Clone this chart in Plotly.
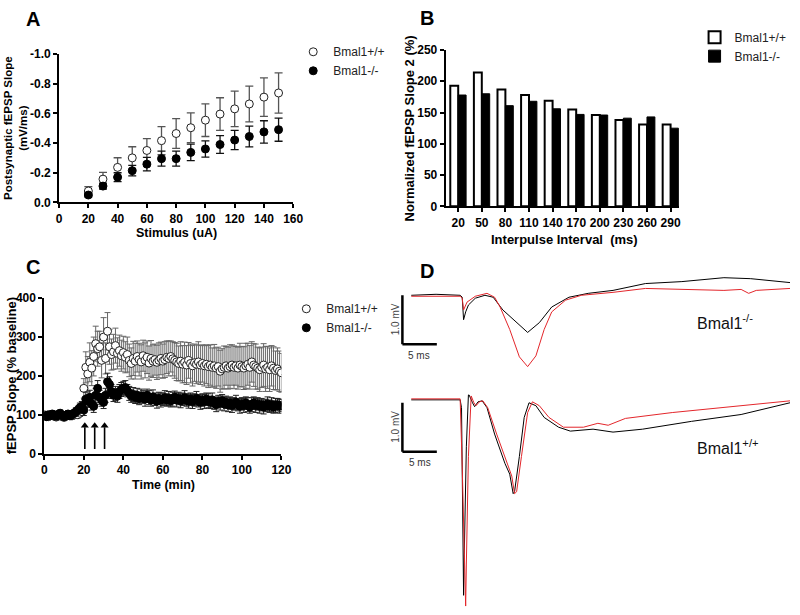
import plotly.graph_objects as go

W, H = 800, 615
FONT = "Liberation Sans, Arial, sans-serif"


def px(x):
    return x / W


def py(y):
    return 1 - y / H


# ---------------- Panel A data ----------------
stim = [20, 30, 40, 50, 60, 70, 80, 90, 100, 110, 120, 130, 140, 150]
a_wt = [-0.077, -0.157, -0.236, -0.300, -0.350, -0.416, -0.464, -0.503, -0.554, -0.595, -0.630, -0.663, -0.709, -0.737]
a_wt_err = [0.03, 0.045, 0.065, 0.075, 0.08, 0.095, 0.10, 0.10, 0.11, 0.11, 0.12, 0.12, 0.13, 0.135]
a_ko = [-0.050, -0.110, -0.170, -0.214, -0.258, -0.295, -0.295, -0.337, -0.360, -0.390, -0.420, -0.444, -0.475, -0.490]
a_ko_err = [0.012, 0.02, 0.03, 0.035, 0.045, 0.05, 0.05, 0.055, 0.055, 0.06, 0.065, 0.07, 0.075, 0.078]
a_xticks = [0, 20, 40, 60, 80, 100, 120, 140, 160]
a_yticks = [0.0, -0.2, -0.4, -0.6, -0.8, -1.0]
a_yticktext = ["0.0", "-0.2", "-0.4", "-0.6", "-0.8", "-1.0"]

# ---------------- Panel B data ----------------
intervals = ["20", "50", "80", "110", "140", "170", "200", "230", "260", "290"]
b_wt = [193, 214, 187, 178, 169, 155, 146, 138, 131, 131]
b_ko = [178, 180, 161, 168, 156, 147, 146, 141, 143, 125]
b_yticks = [0, 50, 100, 150, 200, 250]

# ---------------- Panel C data ----------------
c_time = list(range(0, 121))
c_wt = [100, 97, 95, 98, 100, 96, 94, 97, 99, 95,
        93, 96, 98, 100, 97, 99, 102, 100, 104, 108,
        168, 222, 205, 235, 220, 250, 283, 270, 275, 240,
        300, 245, 315, 275, 255, 262, 278, 258, 265, 252,
        260, 248, 255, 240, 232, 245, 238, 250, 242, 236,
        252, 240, 248, 233, 245, 238, 242, 235, 240, 245,
        238, 242, 248, 245, 250, 244, 240, 236, 232, 238,
        230, 235, 228, 240, 232, 226, 234, 230, 236, 228,
        232, 226, 230, 224, 228, 222, 226, 220, 224, 212,
        218, 222, 226, 220, 224, 228, 222, 226, 220, 228,
        224, 220, 226, 230, 222, 236, 228, 224, 220, 216,
        222, 228, 218, 222, 216, 226, 220, 214, 218, 212,
        208]
c_wt_err = [6, 6, 6, 6, 6, 6, 6, 6, 6, 6,
            6, 6, 6, 6, 6, 6, 6, 6, 8, 10,
            25, 40, 45, 50, 45, 50, 45, 45, 40, 45,
            50, 40, 48, 45, 40, 45, 45, 40, 40, 40,
            42, 40, 45, 42, 40, 44, 46, 40, 42, 44,
            40, 45, 42, 44, 46, 42, 40, 44, 45, 42,
            44, 46, 42, 45, 40, 44, 46, 48, 45, 50,
            48, 52, 50, 46, 50, 52, 48, 50, 52, 50,
            48, 52, 50, 54, 52, 50, 55, 52, 50, 54,
            52, 55, 50, 54, 56, 52, 55, 50, 54, 56,
            52, 55, 58, 54, 56, 52, 55, 58, 54, 56,
            52, 55, 58, 54, 56, 52, 55, 50, 54, 52,
            50]
c_ko = [98, 95, 100, 97, 102, 99, 96, 101, 104, 98,
        95, 99, 102, 97, 100, 104, 108, 112, 118, 122,
        112, 140, 135, 145, 128, 122, 150, 168, 145, 138,
        132, 150, 185, 178, 160, 150, 155, 148, 160, 165,
        168, 170, 162, 155, 148, 152, 145, 150, 142, 148,
        146, 140, 150, 144, 138, 146, 140, 135, 142, 138,
        140, 144, 138, 142, 136, 140, 145, 138, 142, 136,
        140, 144, 138, 135, 140, 134, 138, 142, 136, 132,
        138, 134, 140, 136, 132, 138, 130, 126, 134, 130,
        136, 128, 132, 126, 130, 124, 128, 132, 126, 122,
        128, 124, 130, 126, 120, 126, 130, 124, 128, 122,
        126, 120, 124, 128, 122, 126, 120, 124, 126, 122,
        124]
c_ko_err = [8, 8, 8, 8, 8, 8, 8, 8, 8, 8,
            8, 8, 8, 8, 8, 8, 10, 10, 12, 12,
            14, 18, 16, 18, 16, 16, 18, 20, 18, 16,
            16, 18, 22, 20, 18, 16, 18, 16, 18, 18,
            18, 18, 16, 18, 16, 18, 16, 18, 16, 18,
            16, 18, 16, 18, 16, 18, 16, 18, 16, 18,
            16, 18, 16, 18, 16, 18, 16, 18, 16, 18,
            16, 18, 16, 18, 16, 18, 16, 18, 16, 18,
            16, 18, 16, 18, 16, 18, 16, 18, 16, 18,
            16, 18, 16, 18, 16, 18, 16, 18, 16, 18,
            16, 18, 16, 18, 16, 18, 16, 18, 16, 18,
            16, 18, 16, 18, 16, 18, 16, 18, 16, 18,
            16]
c_arrow_times = [20.5, 25.5, 30.5]
c_arrow_tail = 12
c_arrow_head = 72
c_xticks = [0, 20, 40, 60, 80, 100, 120]
c_yticks = [0, 100, 200, 300, 400]

# ---------------- Panel D data (ms, mV) ----------------
d_top_blk_t = [0, 3.6, 7.1, 7.4, 7.6, 7.9, 8.3, 9.3, 10.7, 11.9, 13.3, 15.3, 16.9, 18.6, 20.4, 22.9, 25.7, 29.3, 34.0, 39.3, 45.4, 49.3, 55.0]
d_top_blk_v = [-0.04, -0.02, -0.04, -0.08, -0.54, -0.38, -0.24, -0.10, -0.04, -0.08, -0.34, -0.60, -0.80, -0.60, -0.28, -0.08, 0.0, 0.06, 0.20, 0.24, 0.32, 0.30, 0.22]
d_top_red_t = [0, 7.1, 7.4, 7.6, 8.1, 9.3, 11.0, 12.1, 12.9, 14.3, 15.7, 16.9, 18.1, 19.3, 20.4, 22.4, 24.7, 29.3, 34.0, 40.7, 45.4, 47.9, 49.0, 50.1, 55.0]
d_top_red_v = [-0.06, -0.06, -0.10, -0.34, -0.18, -0.06, 0.0, -0.08, -0.28, -0.74, -1.30, -1.50, -1.28, -0.74, -0.38, -0.14, -0.04, 0.02, 0.10, 0.08, 0.06, 0.08, 0.0, 0.06, 0.10]
d_bot_blk_t = [0, 7.1, 7.3, 7.4, 7.6, 7.7, 8.0, 8.3, 8.4, 8.9, 9.2, 9.7, 10.3, 11.0, 12.1, 13.6, 14.3, 14.8, 15.0, 15.7, 16.4, 17.1, 18.1, 19.3, 21.4, 23.1, 26.4, 29.3, 33.6, 40.7, 47.9, 55.0]
d_bot_blk_v = [0, 0, -0.16, -1.96, -4.0, -3.16, -0.96, 0.10, 0.10, -0.06, -0.14, -0.04, -0.02, -0.16, -0.70, -1.30, -1.52, -1.92, -1.88, -1.16, -0.36, -0.06, -0.12, -0.36, -0.56, -0.64, -0.60, -0.66, -0.60, -0.44, -0.30, -0.06]
d_bot_red_t = [0, 7.1, 7.4, 7.7, 7.9, 8.0, 8.3, 8.7, 9.1, 9.4, 9.9, 10.4, 11.1, 12.4, 13.9, 14.6, 15.0, 15.3, 16.0, 16.9, 17.6, 18.6, 20.0, 22.1, 25.0, 27.1, 28.6, 31.1, 37.9, 45.4, 55.0]
d_bot_red_v = [0.02, 0.02, -1.36, -3.4, -4.22, -3.36, -1.16, 0.08, -0.06, -0.12, -0.04, -0.02, -0.16, -0.70, -1.30, -1.56, -1.92, -1.88, -1.16, -0.26, -0.04, -0.12, -0.36, -0.56, -0.56, -0.48, -0.52, -0.38, -0.26, -0.16, -0.02]
d_scale_ms = 5.0
d_scale_mv = 1.0

BLACK = "#000000"
RED = "#e3262b"

fig = go.Figure()

# Panel A
fig.add_trace(go.Scatter(
    x=stim, y=a_wt, mode="markers", name="Bmal1+/+", legend="legend",
    marker=dict(symbol="circle", size=8, color="white", line=dict(color="#222", width=1)),
    error_y=dict(type="data", array=a_wt_err, color="#555", thickness=1.3, width=4),
    xaxis="x", yaxis="y"))
fig.add_trace(go.Scatter(
    x=stim, y=a_ko, mode="markers", name="Bmal1-/-", legend="legend",
    marker=dict(symbol="circle", size=8, color=BLACK, line=dict(color=BLACK, width=1)),
    error_y=dict(type="data", array=a_ko_err, color="#111", thickness=1.3, width=4),
    xaxis="x", yaxis="y"))

# Panel B
fig.add_trace(go.Bar(
    x=intervals, y=b_wt, name="Bmal1+/+", legend="legend2",
    marker=dict(color="white", line=dict(color=BLACK, width=2)),
    xaxis="x2", yaxis="y2"))
fig.add_trace(go.Bar(
    x=intervals, y=b_ko, name="Bmal1-/-", legend="legend2",
    marker=dict(color=BLACK, line=dict(color=BLACK, width=1)),
    xaxis="x2", yaxis="y2"))

# Panel C
fig.add_trace(go.Scatter(
    x=c_time, y=c_wt, mode="markers", name="Bmal1+/+", legend="legend3",
    marker=dict(symbol="circle", size=8, color="white", line=dict(color="#222", width=1)),
    error_y=dict(type="data", array=c_wt_err, color="#666", thickness=1, width=3),
    xaxis="x3", yaxis="y3"))
fig.add_trace(go.Scatter(
    x=c_time, y=c_ko, mode="markers", name="Bmal1-/-", legend="legend3",
    marker=dict(symbol="circle", size=8, color=BLACK, line=dict(color=BLACK, width=1)),
    error_y=dict(type="data", array=c_ko_err, color="#222", thickness=1, width=3),
    xaxis="x3", yaxis="y3"))

# Tetanus arrows in panel C (shaft + head)
arrow_x, arrow_y = [], []
for t in c_arrow_times:
    arrow_x += [t, t, None]
    arrow_y += [c_arrow_tail, c_arrow_head - 4, None]
fig.add_trace(go.Scatter(x=arrow_x, y=arrow_y, mode="lines", showlegend=False,
                         line=dict(color=BLACK, width=1.6), xaxis="x3", yaxis="y3"))
fig.add_trace(go.Scatter(x=c_arrow_times, y=[c_arrow_head] * len(c_arrow_times), mode="markers",
                         showlegend=False, marker=dict(symbol="triangle-up", size=7, color=BLACK),
                         xaxis="x3", yaxis="y3"))

# Panel D traces
fig.add_trace(go.Scatter(x=d_top_blk_t, y=d_top_blk_v, mode="lines", showlegend=False,
                         line=dict(color=BLACK, width=1), xaxis="x4", yaxis="y4"))
fig.add_trace(go.Scatter(x=d_top_red_t, y=d_top_red_v, mode="lines", showlegend=False,
                         line=dict(color=RED, width=1), xaxis="x4", yaxis="y4"))
fig.add_trace(go.Scatter(x=d_bot_blk_t, y=d_bot_blk_v, mode="lines", showlegend=False,
                         line=dict(color=BLACK, width=1), xaxis="x5", yaxis="y5"))
fig.add_trace(go.Scatter(x=d_bot_red_t, y=d_bot_red_v, mode="lines", showlegend=False,
                         line=dict(color=RED, width=1), xaxis="x5", yaxis="y5"))

axis_style = dict(showline=True, linecolor=BLACK, linewidth=2, ticks="outside", ticklen=4,
                  tickwidth=2, tickcolor=BLACK, showgrid=False, zeroline=False,
                  tickfont=dict(family=FONT, size=12, color=BLACK, weight="bold"))

d_xrange = [-20 / 7, 385 / 7]

legend_font = dict(family=FONT, size=12, color="#222")
fig.update_layout(
    width=W, height=H, margin=dict(l=0, r=0, t=0, b=0),
    paper_bgcolor="white", plot_bgcolor="white",
    font=dict(family=FONT, color=BLACK),
    barmode="group", bargap=0.33, bargroupgap=0.0,
    xaxis=dict(domain=[px(57), px(295)], range=[0, 160], tickvals=a_xticks, anchor="y", **axis_style),
    yaxis=dict(domain=[py(200), py(48)], range=[0, -1.0], tickvals=a_yticks, ticktext=a_yticktext,
               anchor="x", **axis_style),
    xaxis2=dict(domain=[px(450), px(687)], range=[-0.53, 9.35], anchor="y2", **axis_style),
    yaxis2=dict(domain=[py(204), py(44)], range=[0, 250], tickvals=b_yticks, anchor="x2", **axis_style),
    xaxis3=dict(domain=[px(42), px(283)], range=[0, 120], tickvals=c_xticks, anchor="y3", **axis_style),
    yaxis3=dict(domain=[py(457), py(298)], range=[0, 400], tickvals=c_yticks, anchor="x3", **axis_style),
    xaxis4=dict(domain=[px(395), 1.0], range=d_xrange, anchor="y4", visible=False),
    yaxis4=dict(domain=[py(380), py(270)], range=[-87 / 50, 23 / 50], anchor="x4", visible=False),
    xaxis5=dict(domain=[px(395), 1.0], range=d_xrange, anchor="y5", visible=False),
    yaxis5=dict(domain=[0.0, py(395)], range=[-213 / 50, 7 / 50], anchor="x5", visible=False),
    legend=dict(x=px(295), y=py(31), xanchor="left", yanchor="top", bgcolor="rgba(0,0,0,0)",
                font=legend_font, tracegroupgap=0),
    legend2=dict(x=px(703), y=py(16), xanchor="left", yanchor="top", bgcolor="rgba(0,0,0,0)",
                 font=legend_font, tracegroupgap=0),
    legend3=dict(x=px(288), y=py(294), xanchor="left", yanchor="top", bgcolor="rgba(0,0,0,0)",
                 font=legend_font, tracegroupgap=0),
)

ann = []


def label(text, x, y, size=12, bold=True, angle=0, color=BLACK, xanchor="center"):
    ann.append(dict(text=text, x=px(x), y=py(y), xref="paper", yref="paper", showarrow=False,
                    xanchor=xanchor, yanchor="middle", textangle=angle,
                    font=dict(family=FONT, size=size, color=color, weight="bold" if bold else "normal")))


# Panel letters
label("A", 30, 12, size=20)
label("B", 431, 11, size=20)
label("C", 30, 266, size=20)
label("D", 431, 270, size=20)

# Axis titles
label("Postsynaptic fEPSP Slope<br>(mV/ms)", 12, 124, size=11.5, angle=-90)
label("Stimulus (uA)", 176, 231, size=12.5)
label("Normalized fEPSP Slope 2 (%)", 413, 124, size=13, angle=-90)
label("Interpulse Interval  (ms)", 571, 238, size=13)
label("fEPSP Slope (% baseline)", 9, 377, size=13, angle=-90)
label("Time (min)", 163, 489, size=12.5)

# D labels
label("1.0 mV", 399, 320, size=10, bold=False, angle=-90, color="#444")
label("5 ms", 423, 357, size=10, bold=False, color="#333")
label("1.0 mV", 399, 430, size=10, bold=False, angle=-90, color="#444")
label("5 ms", 424, 466, size=10, bold=False, color="#333")
label("Bmal1<sup>-/-</sup>", 703, 322, size=16, bold=False, xanchor="left", color="#111")
label("Bmal1<sup>+/+</sup>", 703, 450, size=16, bold=False, xanchor="left", color="#111")

fig.update_layout(annotations=ann)

# Scale bars in panel D
x0 = -9 / 7
shapes = []
for xa, ya, ytop in (("x4", "y4", -0.04), ("x5", "y5", -0.06)):
    shapes.append(dict(type="line", xref=xa, yref=ya, x0=x0, x1=x0, y0=ytop, y1=ytop - d_scale_mv,
                       line=dict(color=BLACK, width=2.5)))
    shapes.append(dict(type="line", xref=xa, yref=ya, x0=x0, x1=x0 + d_scale_ms, y0=ytop - d_scale_mv,
                       y1=ytop - d_scale_mv, line=dict(color=BLACK, width=2.5)))
fig.update_layout(shapes=shapes)

fig.write_html("out.html", config={"displayModeBar": False},
               post_script="document.body.style.margin='0px';")
